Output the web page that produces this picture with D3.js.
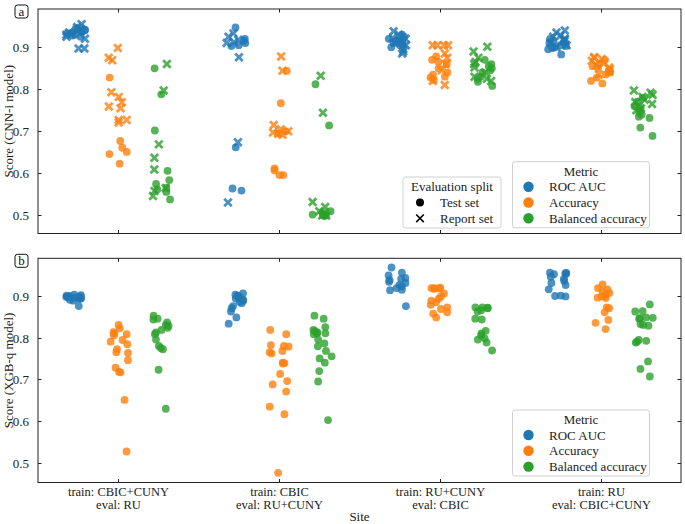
<!DOCTYPE html>
<html><head><meta charset="utf-8">
<script src="https://cdn.jsdelivr.net/npm/d3@7"></script>
<style>
body{margin:0;background:#fff;}
svg text{font-family:"Liberation Serif","DejaVu Serif",serif;}
</style></head>
<body><svg id="c" width="685" height="524"></svg>
<script>
// ---------- DATA ----------
const siteLine1 = ["train: CBIC+CUNY", "train: CBIC", "train: RU+CUNY", "train: RU"];
const siteLine2 = ["eval: RU", "eval: RU+CUNY", "eval: CBIC", "eval: CBIC+CUNY"];
const metrics = ["ROC AUC", "Accuracy", "Balanced accuracy"];
const metricColors = ["#1f77b4", "#ff7f0e", "#2ca02c"];
const splits = ["Test set", "Report set"];
const yTicks = [0.5, 0.6, 0.7, 0.8, 0.9];

// Panel a (CNN-i model): [site][values]
const cnnRocTest = [
  [0.94, 0.935, 0.93, 0.938, 0.945, 0.928, 0.933, 0.925, 0.942, 0.936],
  [0.947, 0.92, 0.915, 0.91, 0.905, 0.903, 0.662, 0.564, 0.559],
  [0.925, 0.918, 0.912, 0.908, 0.905, 0.915, 0.92, 0.91, 0.90, 0.93],
  [0.92, 0.915, 0.91, 0.905, 0.903, 0.90, 0.898, 0.895, 0.883, 0.912]
];
const cnnRocReport = [
  [0.955, 0.948, 0.94, 0.935, 0.925, 0.92, 0.93, 0.897, 0.897, 0.945],
  [0.933, 0.925, 0.918, 0.912, 0.91, 0.876, 0.674, 0.531],
  [0.938, 0.93, 0.922, 0.915, 0.905, 0.895, 0.89, 0.885, 0.91, 0.92],
  [0.94, 0.935, 0.928, 0.92, 0.915, 0.91, 0.905, 0.90, 0.918, 0.925]
];
const cnnAccTest = [
  [0.828, 0.677, 0.661, 0.651, 0.646, 0.623],
  [0.844, 0.767, 0.700, 0.695, 0.612, 0.607, 0.596, 0.596],
  [0.878, 0.87, 0.86, 0.85, 0.84, 0.835, 0.828, 0.822, 0.83, 0.865],
  [0.87, 0.86, 0.855, 0.85, 0.845, 0.84, 0.835, 0.828, 0.82, 0.814]
];
const cnnAccReport = [
  [0.898, 0.875, 0.869, 0.793, 0.782, 0.769, 0.759, 0.755, 0.727, 0.727, 0.721],
  [0.878, 0.844, 0.715, 0.705, 0.70, 0.697, 0.694, 0.692],
  [0.905, 0.905, 0.905, 0.905, 0.885, 0.875, 0.86, 0.845, 0.82, 0.81],
  [0.877, 0.875, 0.872, 0.868, 0.862, 0.858, 0.852, 0.848, 0.842, 0.835]
];
const cnnBalTest = [
  [0.850, 0.788, 0.702, 0.606, 0.584, 0.575, 0.566, 0.562, 0.556, 0.538],
  [0.812, 0.714, 0.51, 0.505, 0.502, 0.50, 0.50, 0.50],
  [0.87, 0.86, 0.855, 0.85, 0.845, 0.84, 0.83, 0.825, 0.818, 0.808],
  [0.78, 0.77, 0.76, 0.755, 0.745, 0.74, 0.735, 0.732, 0.709, 0.689]
];
const cnnBalReport = [
  [0.860, 0.797, 0.669, 0.637, 0.609, 0.565, 0.558, 0.546],
  [0.832, 0.744, 0.532, 0.52, 0.51, 0.505, 0.50, 0.50],
  [0.901, 0.89, 0.875, 0.865, 0.86, 0.852, 0.84, 0.83, 0.825, 0.82],
  [0.797, 0.792, 0.787, 0.782, 0.775, 0.77, 0.765, 0.76, 0.755, 0.75]
];

// Panel b (XGB-q model), test set only: [site][values]
const xgbRoc = [
  [0.902, 0.90, 0.898, 0.897, 0.896, 0.895, 0.894, 0.893, 0.892, 0.89, 0.888, 0.899, 0.901, 0.875, 0.897],
  [0.905, 0.902, 0.90, 0.898, 0.895, 0.893, 0.89, 0.888, 0.885, 0.882, 0.875, 0.87, 0.862, 0.848, 0.833],
  [0.967, 0.955, 0.948, 0.942, 0.94, 0.937, 0.933, 0.93, 0.925, 0.922, 0.918, 0.914, 0.913, 0.875],
  [0.955, 0.954, 0.953, 0.952, 0.951, 0.945, 0.94, 0.935, 0.93, 0.925, 0.915, 0.90, 0.898, 0.899]
];
const xgbAcc = [
  [0.830, 0.822, 0.813, 0.81, 0.808, 0.805, 0.794, 0.79, 0.784, 0.772, 0.765, 0.763, 0.746, 0.728, 0.718, 0.717, 0.651, 0.528],
  [0.818, 0.808, 0.782, 0.78, 0.778, 0.768, 0.765, 0.762, 0.74, 0.739, 0.738, 0.713, 0.696, 0.688, 0.671, 0.635, 0.617, 0.477],
  [0.919, 0.918, 0.918, 0.917, 0.916, 0.905, 0.898, 0.893, 0.888, 0.884, 0.878, 0.872, 0.868, 0.86, 0.857, 0.848],
  [0.927, 0.918, 0.915, 0.91, 0.906, 0.90, 0.898, 0.895, 0.894, 0.872, 0.87, 0.86, 0.842, 0.835, 0.82]
];
const xgbBal = [
  [0.852, 0.845, 0.843, 0.836, 0.83, 0.828, 0.823, 0.818, 0.812, 0.808, 0.795, 0.78, 0.775, 0.772, 0.723, 0.630],
  [0.852, 0.845, 0.825, 0.818, 0.815, 0.812, 0.81, 0.81, 0.808, 0.795, 0.786, 0.779, 0.768, 0.755, 0.75, 0.74, 0.72, 0.695, 0.603],
  [0.872, 0.872, 0.871, 0.87, 0.865, 0.862, 0.845, 0.843, 0.816, 0.81, 0.805, 0.798, 0.795, 0.788, 0.769],
  [0.879, 0.863, 0.862, 0.848, 0.847, 0.846, 0.845, 0.832, 0.83, 0.828, 0.794, 0.792, 0.79, 0.788, 0.743, 0.725, 0.707]
];

// ---------- DRAWING ----------
const svg = d3.select("#c");
const L = 38, R = 681;
const FS = 13;
const x = d3.scaleLinear().domain([-0.5, 3.5]).range([L, R]);
const hueOffset = [-0.8/3, 0, 0.8/3];

function mulberry32(a){return function(){a|=0;a=a+0x6D2B79F5|0;let t=Math.imul(a^a>>>15,1|a);t=t+Math.imul(t^t>>>7,61|t)^t;return((t^t>>>14)>>>0)/4294967296;}}
const rnd = mulberry32(12345);

function xMarkerPath(Lh, w){
  const pts = [[-w,-Lh],[w,-Lh],[w,-w],[Lh,-w],[Lh,w],[w,w],[w,Lh],[-w,Lh],[-w,w],[-Lh,w],[-Lh,-w],[-w,-w]];
  const c = Math.SQRT1_2;
  return "M" + pts.map(([a,b]) => [(a-b)*c, (a+b)*c].map(v=>v.toFixed(2)).join(",")).join("L") + "Z";
}
const bigX = xMarkerPath(5.3, 1.4);

function panel(top, bottom, domain, label, ylab, series, showXLabels){
  const y = d3.scaleLinear().domain(domain).range([bottom, top]);
  const g = svg.append("g");
  series.forEach(s => {
    s.data.forEach((vals, si) => {
      vals.forEach(v => {
        const jx = x(si + hueOffset[s.metric] + (rnd()*2-1)*0.06);
        const cy = y(v);
        if (s.split === 0) {
          g.append("circle").attr("cx", jx).attr("cy", cy).attr("r", 3.9)
            .attr("fill", metricColors[s.metric]).attr("fill-opacity", 0.8);
        } else {
          g.append("path").attr("d", bigX).attr("transform", `translate(${jx},${cy})`)
            .attr("fill", metricColors[s.metric]).attr("fill-opacity", 0.8);
        }
      });
    });
  });
  g.append("rect").attr("x", L).attr("y", top).attr("width", R-L).attr("height", bottom-top)
    .attr("fill", "none").attr("stroke", "#222").attr("stroke-width", 1);
  const tl = 3.5;
  yTicks.forEach(t => {
    const yy = Math.round(y(t))+0.5;
    g.append("line").attr("x1", L).attr("x2", L+tl).attr("y1", yy).attr("y2", yy).attr("stroke", "#222");
    g.append("line").attr("x1", R-tl).attr("x2", R).attr("y1", yy).attr("y2", yy).attr("stroke", "#222");
    g.append("text").attr("x", L-9).attr("y", yy).attr("dy", "0.35em").attr("text-anchor", "end")
      .attr("font-size", FS).attr("fill", "#222").text(t.toFixed(1));
  });
  [0,1,2,3].forEach(i => {
    const xx = Math.round(x(i))+0.5;
    g.append("line").attr("x1", xx).attr("x2", xx).attr("y1", bottom).attr("y2", bottom-tl).attr("stroke", "#222");
    g.append("line").attr("x1", xx).attr("x2", xx).attr("y1", top).attr("y2", top+tl).attr("stroke", "#222");
    if (showXLabels) {
      g.append("text").attr("x", xx).attr("y", bottom+9.5).attr("dy", "0.35em").attr("text-anchor", "middle")
        .attr("font-size", 12.5).attr("fill", "#222").text(siteLine1[i]);
      g.append("text").attr("x", xx).attr("y", bottom+22).attr("dy", "0.35em").attr("text-anchor", "middle")
        .attr("font-size", 12.5).attr("fill", "#222").text(siteLine2[i]);
    }
  });
  const cy = (top+bottom)/2;
  g.append("text").attr("transform", `translate(8,${cy}) rotate(-90)`).attr("dy", "0.35em")
    .attr("text-anchor", "middle").attr("font-size", FS).attr("fill", "#222").text(ylab);
  g.append("rect").attr("x", 15).attr("y", top-4).attr("width", 13).attr("height", 13).attr("rx", 2.5)
    .attr("fill", "#fff").attr("stroke", "#111").attr("stroke-width", 1);
  g.append("text").attr("x", 21.5).attr("y", top+2.5).attr("dy", "0.35em").attr("text-anchor", "middle")
    .attr("font-size", FS).attr("fill", "#111").text(label);
  return y;
}

function metricLegend(x0, y0){
  const w = 137, h = 66;
  const g = svg.append("g");
  g.append("rect").attr("x", x0).attr("y", y0).attr("width", w).attr("height", h).attr("rx", 2.5)
    .attr("fill", "#fff").attr("fill-opacity", 0.85).attr("stroke", "#d0d0d0");
  g.append("text").attr("x", x0 + w/2).attr("y", y0 + 9.5).attr("dy", "0.35em").attr("text-anchor", "middle")
    .attr("font-size", FS).attr("fill", "#222").text("Metric");
  metrics.forEach((m, i) => {
    const yy = y0 + 25 + i*15.8;
    g.append("circle").attr("cx", x0 + 16).attr("cy", yy).attr("r", 5.2).attr("fill", metricColors[i]);
    g.append("text").attr("x", x0 + 36.5).attr("y", yy).attr("dy", "0.35em")
      .attr("font-size", FS).attr("fill", "#222").text(m);
  });
}

function splitLegend(x0, y0){
  const w = 98, h = 51;
  const g = svg.append("g");
  g.append("rect").attr("x", x0).attr("y", y0).attr("width", w).attr("height", h).attr("rx", 2.5)
    .attr("fill", "#fff").attr("fill-opacity", 0.85).attr("stroke", "#d0d0d0");
  g.append("text").attr("x", x0 + w/2).attr("y", y0 + 9.5).attr("dy", "0.35em").attr("text-anchor", "middle")
    .attr("font-size", FS).attr("fill", "#222").text("Evaluation split");
  splits.forEach((s, i) => {
    const yy = y0 + 25.5 + i*15.8;
    if (i === 0) g.append("circle").attr("cx", x0 + 17).attr("cy", yy).attr("r", 4).attr("fill", "#000");
    else g.append("path").attr("d", "M-3.8,-3.8L3.8,3.8M-3.8,3.8L3.8,-3.8").attr("transform", `translate(${x0+17},${yy})`)
      .attr("stroke", "#000").attr("stroke-width", 1.6).attr("fill", "none");
    g.append("text").attr("x", x0 + 37).attr("y", yy).attr("dy", "0.35em")
      .attr("font-size", FS).attr("fill", "#222").text(s);
  });
}

const seriesA = [
  {metric:0, split:0, data:cnnRocTest}, {metric:1, split:0, data:cnnAccTest}, {metric:2, split:0, data:cnnBalTest},
  {metric:0, split:1, data:cnnRocReport}, {metric:1, split:1, data:cnnAccReport}, {metric:2, split:1, data:cnnBalReport}
];
const seriesB = [
  {metric:0, split:0, data:xgbRoc}, {metric:1, split:0, data:xgbAcc}, {metric:2, split:0, data:xgbBal}
];

panel(9, 233.5, [0.457, 0.991], "a", "Score (CNN-i model)", seriesA, false);
panel(258.3, 482.5, [0.454, 0.989], "b", "Score (XGB-q model)", seriesB, true);

splitLegend(403, 177);
metricLegend(512.5, 161.7);
metricLegend(512.5, 410);

svg.append("text").attr("x", x(1.5)).attr("y", 516.5).attr("dy", "0.35em").attr("text-anchor", "middle")
  .attr("font-size", FS).attr("fill", "#222").text("Site");
</script></body></html>
